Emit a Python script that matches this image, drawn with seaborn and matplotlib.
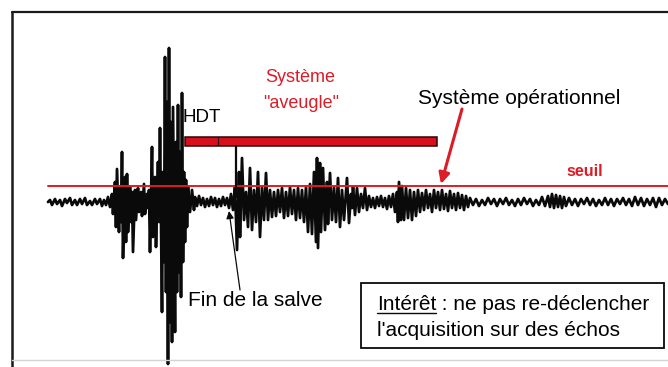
import matplotlib
matplotlib.use("Agg")
import matplotlib.pyplot as plt
from matplotlib.patches import Rectangle
from matplotlib.lines import Line2D
import pandas as pd
import seaborn as sns

# Recorded trace: time (ms) and amplitude (arbitrary units), read segment by segment
pre_t = [0, 2, 4, 7, 9, 12, 14, 17, 19, 22, 24, 27, 29, 32, 34, 37, 39, 42, 44, 47, 49, 52, 54, 56, 58, 60, 62, 64]
pre_a = [0, 2, -3, 3, -2, 2, -4, 3, -1, 4, -3, 2, -3, 3, -2, 4, -3, 1, -3, 3, -2, 3, -4, 2, -3, 5, -5, 8]

burst1_t = [65, 67, 68, 69, 71, 72, 73, 74, 75, 77, 78, 79, 80, 82, 83, 84, 85, 87, 88, 90, 91, 93, 94, 96, 97, 99, 100]
burst1_a = [-12, 20, -25, 33, -30, 15, -20, 50, -56, 25, -40, 28, -30, 15, -20, 10, -50, 12, -18, 14, -10, 10, -14, 18, -12, 8, -6]

salvo_t = [101, 102, 104, 105, 107, 108, 110, 111, 112, 114, 115, 116, 117, 118, 119, 120, 121, 122, 123, 124,
           125, 127, 128, 129, 130, 131, 132, 133, 134, 135, 136, 137, 138, 139, 140, 142, 144, 146]
salvo_a = [12, -50, 55, -35, 25, -45, 40, -20, 74, -110, 30, -60, 145, -90, 100, -162, 154, -120, 80, -140,
           95, -130, 60, -90, 97, -70, 50, -95, 109, -60, 30, -40, 22, -25, 15, -10, 12, -8]

quiet_t = [147, 149, 151, 153, 155, 157, 159, 161, 163, 165, 167, 169, 171, 173, 175, 177, 179, 181, 183, 185]
quiet_a = [5, -4, 6, -3, 4, -5, 3, -4, 5, -3, 4, -5, 3, -4, 5, -3, 4, -6, 8, -8]

echo_t = [187, 189, 191, 192, 194, 196, 198, 200, 202, 204, 206, 208, 210, 212, 214, 216, 218, 220,
          222, 224, 226, 228, 230, 232, 234, 236, 238, 240, 242, 244, 246, 248, 250, 252, 254, 256, 258,
          260, 262, 264, 266, 268, 269, 270, 272, 273, 275, 277, 279, 280, 282, 284, 286, 288, 290, 292,
          294, 296, 299, 301, 303, 304, 305, 307, 309, 311]
echo_a = [15, -48, 30, -35, 44, -18, 10, -25, 34, -28, 12, -20, 30, -35, 15, -18, 29, -18,
          12, -15, 10, -14, 12, -10, 14, -16, 10, -14, 15, -12, 12, -18, 14, -16, 12, -20, 15,
          -30, 18, -32, 30, -40, 44, -46, 39, -30, 34, -28, 20, -22, 29, -18, 15, -20, 24, -25,
          12, -18, 24, -21, 8, -6, 15, -13, 14, -10]

calm_t = [313, 315, 317, 319, 321, 323, 325, 327, 329, 331, 333, 335, 337, 339, 341, 343, 345, 347, 349]
calm_a = [8, -6, 14, -8, 6, -5, 4, -6, 5, -4, 6, -5, 4, -7, 6, -5, 8, -10, 10]

late_t = [350, 351, 353, 354, 356, 358, 360, 362, 364, 366, 368, 370, 372,
          374, 376, 378, 380, 382, 384, 386, 388, 390, 392, 394, 396, 398, 400, 402, 404, 406, 408,
          410, 412, 414, 416, 418, 420]
late_a = [-20, 20, -18, 16, -18, 14, -16, 12, -18, 10, -14, 12, -10,
          9, -8, 12, -6, 8, -10, 12, -6, 10, -8, 12, -7, 8, -9, 11, -6, 8, -8,
          9, -6, 7, -8, 6, -5]

tail_t = [422, 425, 428, 431, 434, 437, 440, 443, 446, 449, 452, 455, 458, 461, 464, 467, 470, 473, 476,
          479, 482, 485, 488, 491, 494, 497, 500, 502, 504, 506, 508, 510, 512, 514, 516, 518, 521, 524,
          527, 530, 533, 536, 539, 542, 545, 548, 551, 554, 557, 560, 563, 566, 569, 572, 575, 578, 581,
          584, 587, 590, 593, 596, 599, 602, 605, 608, 611, 614, 617, 620]
tail_a = [4, -3, 3, -4, 2, -3, 4, -2, 3, -4, 3, -2, 4, -3, 2, -4, 3, -3, 4,
          -2, 3, -4, 2, -3, 5, -4, 6, -5, 8, -6, 7, -5, 6, -6, 5, -4, 4, -3,
          3, -4, 3, -2, 4, -3, 3, -4, 2, -3, 4, -3, 3, -4, 3, -2, 4, -3, 3,
          -4, 5, -3, 4, -4, 3, -3, 4, -5, 4, -3, 3, -2]

threshold = 16                 # "seuil"
blind_window = (137, 389)      # "Système aveugle" duration (ms)
salvo_end = 188                # end of the emitted salvo (ms)

time = pre_t + burst1_t + salvo_t + quiet_t + echo_t + calm_t + late_t + tail_t
amp = pre_a + burst1_a + salvo_a + quiet_a + echo_a + calm_a + late_a + tail_a
trace = pd.DataFrame({"t": time, "amp": amp})

sns.set_theme(style="white")
plt.rcParams["font.family"] = ["Liberation Sans", "DejaVu Sans"]
plt.rcParams["text.color"] = "#000000"

RED = "#dc1c26"
INK = "#0a0a0a"
W, H = 668, 367

fig = plt.figure(figsize=(W / 100, H / 100), dpi=100)
ax = fig.add_axes([0, 0, 1, 1])

sns.lineplot(data=trace, x="t", y="amp", ax=ax, color=INK, lw=2.0,
             estimator=None, sort=False)

ax.set_xlim(-48, 620)
ax.set_ylim(-165, 202)
ax.axis("off")

# threshold line
ax.plot([0, 620], [threshold, threshold], color=RED, lw=1.4, zorder=3)
ax.text(537, 31, "seuil", color=RED, fontsize=11.5, fontweight="bold",
        ha="center", va="center")

# blind period bar
ax.add_patch(Rectangle((blind_window[0], 56), blind_window[1] - blind_window[0], 9,
                       facecolor="#d7101c", edgecolor="#2a0808", lw=1.1, zorder=4))
ax.plot([170, 170], [57, 64], color="#2a0808", lw=0.8, zorder=5)
ax.plot([salvo_end, salvo_end], [56, 5], color=INK, lw=1.6, zorder=4)
ax.text(135, 84, "HDT", fontsize=13.5, ha="left", va="center")

ax.text(252, 124, "Système", color=RED, fontsize=13, ha="center", va="center")
ax.text(253, 99, "\"aveugle\"", color=RED, fontsize=13, ha="center", va="center")

ax.text(471, 104, "Système opérationnel", fontsize=15, ha="center", va="center")
ax.annotate("", xy=(393, 18), xytext=(414, 93),
            arrowprops=dict(arrowstyle="-|>", color=RED, lw=2.2, mutation_scale=16,
                            shrinkA=0, shrinkB=0))

ax.text(140, -98, "Fin de la salve", fontsize=15, ha="left", va="center")
ax.annotate("", xy=(181, -9), xytext=(192, -88),
            arrowprops=dict(arrowstyle="-|>", color=INK, lw=0.9, mutation_scale=11,
                            shrinkA=0, shrinkB=0))


def fx(px):
    return px / W


def fy(py):
    return 1 - py / H


# frame
fig.add_artist(Line2D([fx(12), fx(668)], [fy(12), fy(12)], color="#1a1a1a", lw=1.6))
fig.add_artist(Line2D([fx(12), fx(12)], [fy(12), fy(367)], color="#1a1a1a", lw=1.8))
fig.add_artist(Line2D([fx(12), fx(668)], [fy(360), fy(360)], color="#d4d4d4", lw=1.0))

# note box
fig.add_artist(Rectangle((fx(361), fy(348)), fx(664) - fx(361), fy(283) - fy(348),
                         transform=fig.transFigure, facecolor="white",
                         edgecolor=INK, lw=1.3))
t1 = fig.text(fx(377), fy(304), "Intérêt", fontsize=15, ha="left", va="center")
fig.text(fx(377), fy(331), "l'acquisition sur des échos", fontsize=15, ha="left", va="center")

renderer = fig.canvas.get_renderer()
bb = t1.get_window_extent(renderer)
fig.text(bb.x1 / W, fy(304), " : ne pas re-déclencher", fontsize=15, ha="left", va="center")
fig.add_artist(Line2D([bb.x0 / W, bb.x1 / W], [(bb.y0 + 1) / H, (bb.y0 + 1) / H],
                      color=INK, lw=1.0))

fig.savefig("out.png", dpi=100)
